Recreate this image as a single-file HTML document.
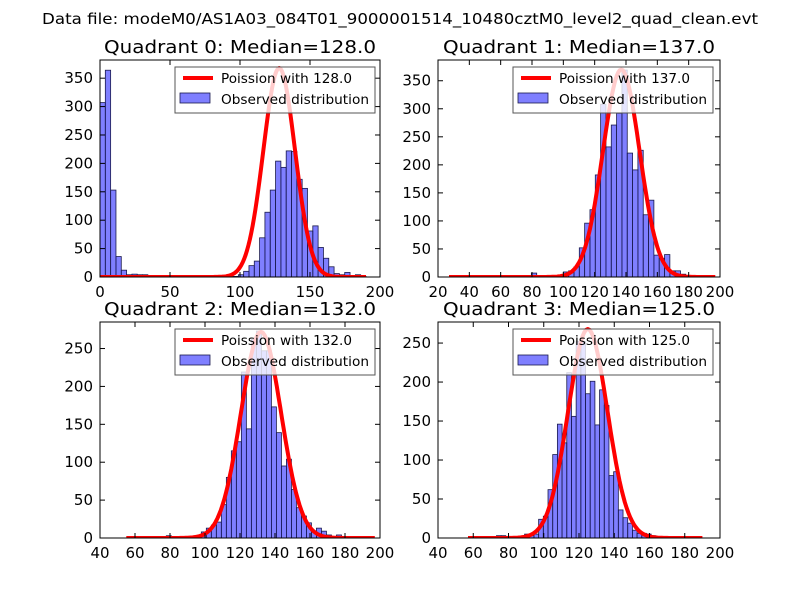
<!DOCTYPE html>
<html><head><meta charset="utf-8"><style>
body{margin:0;background:#fff;}
svg text{font-family:"DejaVu Sans","Liberation Sans",sans-serif;}
</style></head><body>
<svg id="fig" width="800" height="600" xmlns="http://www.w3.org/2000/svg">
<rect width="800" height="600" fill="#fff"/>
<text x="400" y="24" font-size="15" text-anchor="middle" textLength="716" lengthAdjust="spacingAndGlyphs">Data file: modeM0/AS1A03_084T01_9000001514_10480cztM0_level2_quad_clean.evt</text>
</svg>
<script>
// ---- data ----
const quadrantNames = ["Quadrant 0: Median=128.0","Quadrant 1: Median=137.0","Quadrant 2: Median=132.0","Quadrant 3: Median=125.0"];
const legendLabels = ["Poission with 128.0","Poission with 137.0","Poission with 132.0","Poission with 125.0"];
const medians = [128,137,132,125];
const curvePeaks = [368,370,272,268];
const curveStart = [0,27,55,57];
const curveEnd = [190,197,197,190];
const binStart = [0,28.6,55,57.2];
const binWidth = [3.8,3.4,2.86,2.66];
const counts0 = [307,364,153,36,12,4,5,4,4,2,1,1,1,0,0,0,1,1,1,1,2,1,2,3,2,1,4,10,20,28,69,114,153,204,193,222,221,172,156,81,90,52,33,18,6,4,8,2,4,1];
const counts1 = [0,0,0,0,0,0,0,0,0,0,1,0,1,1,1,7,1,1,2,1,2,9,11,18,52,96,120,182,308,232,271,292,369,221,191,226,111,137,39,33,40,11,11,5,2,1,0,0,0,0];
const counts2 = [0,0,0,0,0,0,0,2,3,0,0,1,1,2,3,8,13,17,21,44,80,115,127,219,144,262,273,247,247,173,139,95,104,64,40,29,20,9,13,9,4,1,4,1,1,0,0,0,0,0];
const counts3 = [0,0,0,0,0,0,3,3,0,0,0,0,5,3,5,24,28,62,107,146,122,212,156,252,252,185,201,145,190,170,80,85,36,26,19,10,6,6,5,3,2,2,1,0,0,0,0,0,0,0];
const allCounts = [counts0,counts1,counts2,counts3];
const xMin = [0,20,40,40], xMax = [200,200,200,200];
const yMax = [382,387,285,277];
const xTicks = [[0,50,100,150,200],[20,40,60,80,100,120,140,160,180,200],[40,60,80,100,120,140,160,180,200],[40,60,80,100,120,140,160,180,200]];
const yTicks = [[0,50,100,150,200,250,300,350],[0,50,100,150,200,250,300,350],[0,50,100,150,200,250],[0,50,100,150,200,250]];
// ---- layout ----
const boxes = [{l:100,r:380,t:60,b:277},{l:438,r:720,t:60,b:277},{l:100,r:380,t:322,b:538},{l:438,r:720,t:322,b:538}];
const NS="http://www.w3.org/2000/svg";
const svg=document.getElementById('fig');
function mk(tag,attrs,parent){const e=document.createElementNS(NS,tag);for(const k in attrs)e.setAttribute(k,attrs[k]);(parent||svg).appendChild(e);return e;}
for(let q=0;q<4;q++){
  const B=boxes[q];
  const g=mk('g',{});
  
  
  const X=v=>B.l+(v-xMin[q])/(xMax[q]-xMin[q])*(B.r-B.l);
  const Y=v=>B.b-v/yMax[q]*(B.b-B.t);
  mk('rect',{x:B.l,y:B.t,width:B.r-B.l,height:B.b-B.t,fill:'#fff'},g);
  const cp=mk('clipPath',{id:'cp'+q},g);
  mk('rect',{x:B.l,y:B.t,width:B.r-B.l,height:B.b-B.t},cp);
  const plot=mk('g',{'clip-path':'url(#cp'+q+')'},g);
  const cs=allCounts[q];
  for(let k=0;k<cs.length;k++){
    if(cs[k]<=0)continue;
    const x0=X(binStart[q]+k*binWidth[q]),x1=X(binStart[q]+(k+1)*binWidth[q]);
    const r=mk('rect',{x:x0,y:Y(cs[k]),width:x1-x0,height:Y(0)-Y(cs[k]),fill:'rgba(0,0,255,0.5)',stroke:'#1a1a4d','stroke-width':0.8},plot);
    
    
  }
  let pts=[];
  const lam=medians[q];
  for(let v=curveStart[q];v<=curveEnd[q];v+=1){
    const y=curvePeaks[q]*Math.exp(-(v-lam)*(v-lam)/(2*lam));
    pts.push(X(v).toFixed(1)+','+Y(y).toFixed(1));
  }
  const pl=mk('polyline',{points:pts.join(' '),fill:'none',stroke:'#ff0000','stroke-width':4,'stroke-linejoin':'round'},plot);
  
  
  mk('rect',{x:B.l,y:B.t,width:B.r-B.l,height:B.b-B.t,fill:'none',stroke:'#000','stroke-width':1},g);
  xTicks[q].forEach(v=>{
    const x=X(v);
    mk('line',{x1:x,y1:B.b,x2:x,y2:B.b-5,stroke:'#000'},g);
    mk('line',{x1:x,y1:B.t,x2:x,y2:B.t+5,stroke:'#000'},g);
    const t=mk('text',{x:x,y:B.b+20,'font-size':15,'text-anchor':'middle'},g);
    t.textContent=v;
    
    
  });
  yTicks[q].forEach(v=>{
    const y=Y(v);
    mk('line',{x1:B.l,y1:y,x2:B.l+5,y2:y,stroke:'#000'},g);
    mk('line',{x1:B.r,y1:y,x2:B.r-5,y2:y,stroke:'#000'},g);
    const t=mk('text',{x:B.l-7,y:y+5,'font-size':15,'text-anchor':'end'},g);
    t.textContent=v;
    
    
  });
  const ti=mk('text',{x:(B.l+B.r)/2,y:B.t-7,'font-size':18,'text-anchor':'middle',textLength:272,lengthAdjust:'spacingAndGlyphs'},g);
  ti.textContent=quadrantNames[q];
  
  
  const lg=mk('g',{},g);
  
  
  const lx=B.l+75,ly=B.t+7;
  mk('rect',{x:lx,y:ly,width:200,height:46,fill:'rgba(255,255,255,0.8)',stroke:'#555','stroke-width':1},lg);
  mk('line',{x1:lx+8,y1:ly+11,x2:lx+38,y2:ly+11,stroke:'#ff0000','stroke-width':4},lg);
  const t1=mk('text',{x:lx+46,y:ly+16,'font-size':13,textLength:131,lengthAdjust:'spacingAndGlyphs'},lg);
  t1.textContent=legendLabels[q];
  
  
  mk('rect',{x:lx+5,y:ly+26,width:30,height:10,fill:'rgba(0,0,255,0.5)',stroke:'#1a1a4d','stroke-width':0.8},lg);
  const t2=mk('text',{x:lx+46,y:ly+37,'font-size':13,textLength:148,lengthAdjust:'spacingAndGlyphs'},lg);
  t2.textContent='Observed distribution';
  
  
}
</script>
</body></html>
